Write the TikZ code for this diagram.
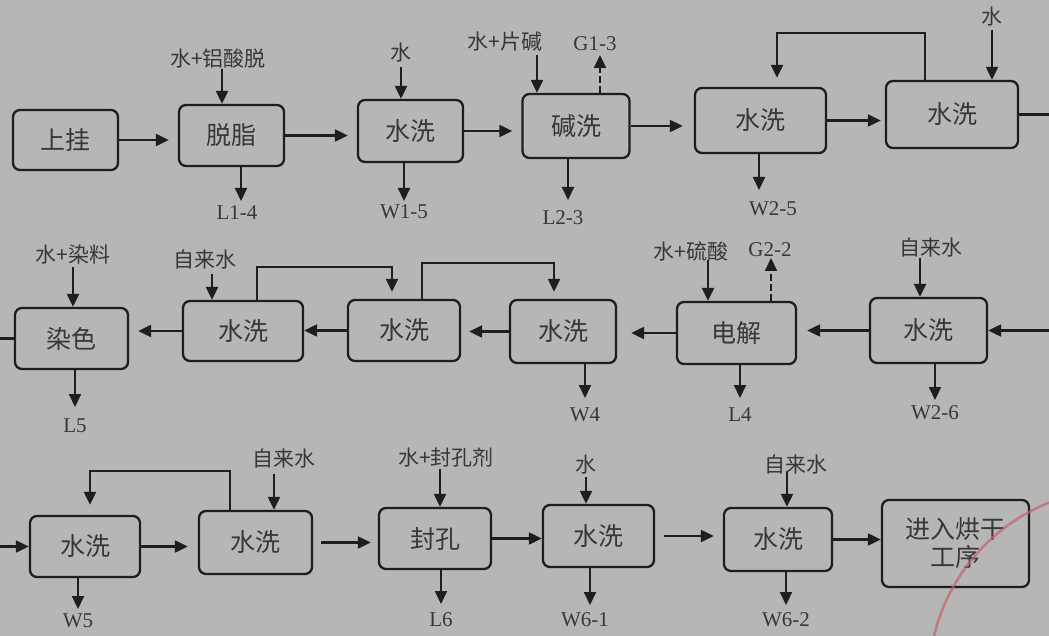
\documentclass[tikz,border=0pt]{standalone}
\usepackage{fontspec}
\setmainfont{Liberation Serif}
\newfontfamily\cjk{Noto Sans CJK SC}
\usetikzlibrary{arrows.meta,positioning}
\definecolor{paper}{RGB}{182,182,180}
\definecolor{ink}{RGB}{30,30,30}
\definecolor{txt}{RGB}{55,55,55}
\definecolor{stamp}{RGB}{196,96,108}

\begin{document}
\begin{tikzpicture}[x=1pt,y=-1pt,
  every node/.style={text=txt},
  box/.style={draw=ink,line width=2.3pt,rounded corners=7pt,minimum width=106pt,minimum height=62pt,inner sep=0pt,align=center,font=\cjk\fontsize{25}{28}\selectfont},
  cn/.style={inner sep=1pt,font=\cjk\fontsize{21}{23}\selectfont},
  lab/.style={inner sep=1pt,font=\fontsize{21}{23}\selectfont},
  pipe/.style={draw=ink,line width=2.1pt},
  arr/.style={pipe,-{Triangle[length=13pt,width=12pt]}},
  gas/.style={arr,dash pattern=on 7pt off 3pt},
  flow/.style={arr,shorten >=9pt}]
\useasboundingbox (0,0) rectangle (1049,636);
\fill[paper] (0,0) rectangle (1049,636);
\coordinate (l0) at (0,0);
\coordinate (r0) at (1049,0);

% row 1
\node[box,minimum width=105pt,minimum height=60pt] (gua) at (65.5,140) {上挂};
\node[box,minimum width=105pt,minimum height=61pt] (tuozhi) at (231.5,135.5) {脱脂};
\node[box,minimum width=105pt] (sx1) at (410.5,131) {水洗};
\node[box,minimum width=107pt,minimum height=64pt] (jianxi) at (576,126) {碱洗};
\node[box,minimum width=131pt,minimum height=65pt] (sx2) at (760.5,120.5) {水洗};
\node[box,minimum width=132pt,minimum height=67pt] (sx3) at (952,114.5) {水洗};

% row 2
\node[box,minimum width=113pt,minimum height=61pt] (ranse) at (71.5,338.5) {染色};
\node[box,minimum width=120pt,minimum height=60pt] (sx4) at (243,331) {水洗};
\node[box,minimum width=112pt,minimum height=61pt] (sx5) at (404,330.5) {水洗};
\node[box,minimum width=106pt,minimum height=63pt] (sx6) at (563,331.5) {水洗};
\node[box,minimum width=119pt] (dianjie) at (736.5,333) {电解};
\node[box,minimum width=117pt,minimum height=65pt] (sx7) at (928.5,330.5) {水洗};

% row 3
\node[box,minimum width=110pt,minimum height=61pt] (sx8) at (85,546.5) {水洗};
\node[box,minimum width=113pt,minimum height=63pt] (sx9) at (255.5,542.5) {水洗};
\node[box,minimum width=112pt,minimum height=61pt] (fengkong) at (435,538.5) {封孔};
\node[box,minimum width=111pt] (sx10) at (598.5,536) {水洗};
\node[box,minimum width=108pt,minimum height=63pt] (sx11) at (778,539.5) {水洗};
\node[box,minimum width=147pt,minimum height=87pt] (hongan) at (955.5,543.5) {进入烘干\\工序};

% main flow
\draw[flow] (gua.east) -- (gua.east -| tuozhi.west);
\draw[flow] (tuozhi.east) -- (tuozhi.east -| sx1.west);
\draw[flow] (sx1.east) -- (sx1.east -| jianxi.west);
\draw[flow,shorten >=11pt] (jianxi.east) -- (jianxi.east -| sx2.west);
\draw[flow,shorten >=4pt] (sx2.east) -- (sx2.east -| sx3.west);
\draw[pipe] (sx3.east) -- (sx3.east -| r0);
\draw[arr] (sx7.east -| r0) -- (sx7.east);
\draw[flow,shorten >=10pt] (sx7.west) -- (sx7.west -| dianjie.east);
\draw[flow,shorten >=14pt] (dianjie.west) -- (dianjie.west -| sx6.east);
\draw[flow,shorten >=8pt] (sx6.west) -- (sx6.west -| sx5.east);
\draw[arr] (sx5.west) -- (sx5.west -| sx4.east);
\draw[flow] (sx4.west) -- (sx4.west -| ranse.east);
\draw[pipe] (ranse.west) -- (ranse.west -| l0);
\draw[arr] (sx8.west -| l0) -- (sx8.west);
\draw[flow,shorten >=10pt] (sx8.east) -- (sx8.east -| sx9.west);
\draw[flow,shorten <=8pt,shorten >=7pt] (sx9.east) -- (sx9.east -| fengkong.west);
\draw[arr] (fengkong.east) -- (fengkong.east -| sx10.west);
\draw[flow,shorten <=9pt] (sx10.east) -- (sx10.east -| sx11.west);
\draw[arr] (sx11.east) -- (sx11.east -| hongan.west);

% recycle
\draw[flow] ([xshift=-27pt]sx3.north) -- ++(0,-47) -| ([xshift=16.5pt]sx2.north);
\draw[flow,shorten >=7pt] ([xshift=14pt]sx4.north) -- ++(0,-33) -| ([xshift=-12pt]sx5.north);
\draw[flow,shorten >=7pt] ([xshift=18pt]sx5.north) -- ++(0,-36) -| ([xshift=-9pt]sx6.north);
\draw[flow,shorten >=10pt] ([xshift=-25.5pt]sx9.north) -- ++(0,-39) -| ([xshift=5pt]sx8.north);

% feeds
\coordinate (i1) at (222,69);
\node[cn,above=0pt of i1,xshift=-4pt] (i1t) {水+铝酸脱};
\draw[arr] (i1) -- (i1 |- tuozhi.north);
\coordinate (i2) at (401,67);
\node[cn,above=4pt of i2] (i2t) {水};
\draw[arr] (i2) -- (i2 |- sx1.north);
\coordinate (i3) at (537,55);
\node[cn,above=3pt of i3,xshift=-32pt] (i3t) {水+片碱};
\draw[arr] (i3) -- (i3 |- jianxi.north);
\coordinate (i4) at (992,30);
\node[cn,above=3pt of i4] (i4t) {水};
\draw[arr] (i4) -- (i4 |- sx3.north);
\coordinate (i5) at (73,267);
\node[cn,above=2pt of i5] (i5t) {水+染料};
\draw[arr] (i5) -- (i5 |- ranse.north);
\coordinate (i6) at (212,274);
\node[cn,above=4pt of i6,xshift=-7pt] (i6t) {自来水};
\draw[arr] (i6) -- (i6 |- sx4.north);
\coordinate (i7) at (708,260);
\node[cn,above=-2pt of i7,xshift=-17pt] (i7t) {水+硫酸};
\draw[arr] (i7) -- (i7 |- dianjie.north);
\coordinate (i8) at (920,258);
\node[cn,above=0pt of i8,xshift=11pt] (i8t) {自来水};
\draw[arr] (i8) -- (i8 |- sx7.north);
\coordinate (i9) at (274,474);
\node[cn,above=5pt of i9,xshift=10pt] (i9t) {自来水};
\draw[arr] (i9) -- (i9 |- sx9.north);
\coordinate (i10) at (440,469);
\node[cn,above=1pt of i10,xshift=6pt] (i10t) {水+封孔剂};
\draw[arr] (i10) -- (i10 |- fengkong.north);
\coordinate (i11) at (586,477);
\node[cn,above=2pt of i11] (i11t) {水};
\draw[arr] (i11) -- (i11 |- sx10.north);
\coordinate (i12) at (787,472);
\node[cn,above=-3pt of i12,xshift=9pt] (i12t) {自来水};
\draw[arr] (i12) -- (i12 |- sx11.north);

% off-gas
\coordinate (g1) at (600,55);
\draw[gas] (g1 |- jianxi.north) -- (g1);
\node[lab,above=3pt of g1,xshift=-5pt] (g1t) {G1-3};
\coordinate (g2) at (771,258);
\draw[gas] (g2 |- dianjie.north) -- (g2);
\node[lab,above=0pt of g2,xshift=-1pt] (g2t) {G2-2};

% discharges
\coordinate (o1) at (241,201);
\draw[arr] (o1 |- tuozhi.south) -- (o1);
\node[lab,below=3pt of o1,xshift=-4pt] (o1t) {L1-4};
\coordinate (o2) at (404,201);
\draw[arr] (o2 |- sx1.south) -- (o2);
\node[lab,below=2pt of o2] (o2t) {W1-5};
\coordinate (o3) at (568,200);
\draw[arr] (o3 |- jianxi.south) -- (o3);
\node[lab,below=9pt of o3,xshift=-5pt] (o3t) {L2-3};
\coordinate (o4) at (759,190);
\draw[arr] (o4 |- sx2.south) -- (o4);
\node[lab,below=10pt of o4,xshift=14pt] (o4t) {W2-5};
\coordinate (o5) at (75,407);
\draw[arr] (o5 |- ranse.south) -- (o5);
\node[lab,below=11pt of o5] (o5t) {L5};
\coordinate (o6) at (585,398);
\draw[arr] (o6 |- sx6.south) -- (o6);
\node[lab,below=8pt of o6] (o6t) {W4};
\coordinate (o7) at (740,398);
\draw[arr] (o7 |- dianjie.south) -- (o7);
\node[lab,below=8pt of o7] (o7t) {L4};
\coordinate (o8) at (935,400);
\draw[arr] (o8 |- sx7.south) -- (o8);
\node[lab,below=4pt of o8] (o8t) {W2-6};
\coordinate (o9) at (78,609);
\draw[arr] (o9 |- sx8.south) -- (o9);
\node[lab,below=4pt of o9] (o9t) {W5};
\coordinate (o10) at (441,604);
\draw[arr] (o10 |- fengkong.south) -- (o10);
\node[lab,below=7pt of o10] (o10t) {L6};
\coordinate (o11) at (590,605);
\draw[arr] (o11 |- sx10.south) -- (o11);
\node[lab,below=6pt of o11,xshift=-5pt] (o11t) {W6-1};
\coordinate (o12) at (786,605);
\draw[arr] (o12 |- sx11.south) -- (o12);
\node[lab,below=6pt of o12] (o12t) {W6-2};

% stamp edge
\begin{scope}
\clip (0,0) rectangle (1049,636);
\draw[stamp,line width=2.5pt,opacity=0.7] (1120,680) circle[radius=191];
\end{scope}
\end{tikzpicture}
\end{document}
